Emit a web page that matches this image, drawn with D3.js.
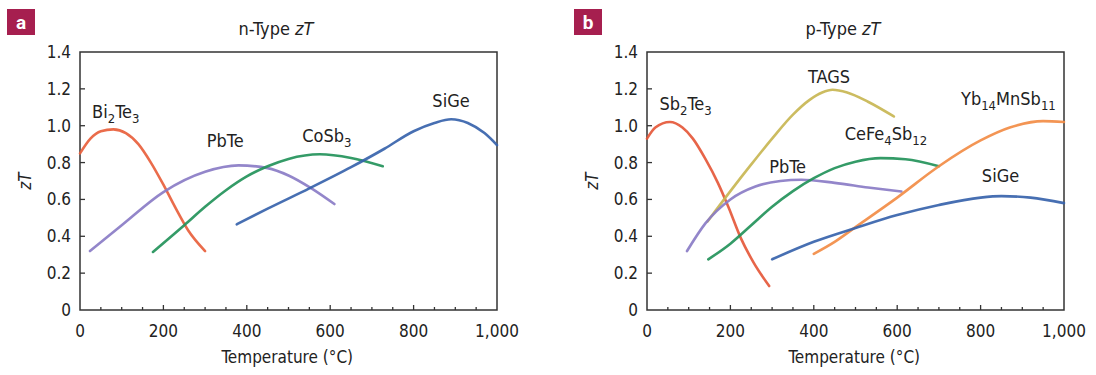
<!DOCTYPE html>
<html>
<head>
<meta charset="utf-8">
<script src="https://cdn.jsdelivr.net/npm/d3@7"></script>
<style>
  body { margin: 0; background: #fff; }
  text { font-family: "Liberation Sans Narrow", "DejaVu Sans Condensed", sans-serif; fill: #222; }
</style>
</head>
<body>
<div id="chart"></div>
<script>
// temperature (°C), zT pairs
const nBi2Te3 = [[0, 0.85], [25, 0.93], [50, 0.97], [80, 0.98], [110, 0.96], [140, 0.9], [170, 0.8], [200, 0.68], [230, 0.55], [260, 0.43], [300, 0.32]];
const nPbTe = [[24, 0.32], [100, 0.46], [200, 0.64], [300, 0.75], [380, 0.785], [450, 0.77], [500, 0.73], [555, 0.66], [610, 0.575]];
const nCoSb3 = [[175, 0.315], [250, 0.46], [300, 0.56], [350, 0.65], [400, 0.725], [450, 0.78], [500, 0.82], [575, 0.845], [650, 0.825], [726, 0.78]];
const nSiGe = [[376, 0.465], [450, 0.55], [550, 0.66], [650, 0.775], [730, 0.875], [800, 0.97], [850, 1.015], [890, 1.035], [930, 1.015], [970, 0.96], [1000, 0.895]];

const pSb2Te3 = [[0, 0.93], [20, 0.99], [55, 1.02], [85, 0.99], [110, 0.93], [140, 0.82], [170, 0.69], [195, 0.56], [225, 0.39], [255, 0.26], [293, 0.13]];
const pTAGS = [[145, 0.48], [200, 0.645], [250, 0.79], [300, 0.93], [350, 1.06], [390, 1.14], [420, 1.18], [445, 1.195], [480, 1.18], [530, 1.13], [592, 1.05]];
const pPbTe = [[96, 0.32], [140, 0.47], [200, 0.6], [260, 0.67], [320, 0.7], [370, 0.707], [450, 0.69], [530, 0.665], [610, 0.643]];
const pCeFe4Sb12 = [[147, 0.275], [200, 0.36], [250, 0.46], [300, 0.56], [350, 0.645], [400, 0.715], [450, 0.77], [500, 0.805], [560, 0.824], [620, 0.818], [700, 0.78]];
const pYb14MnSb11 = [[400, 0.305], [450, 0.37], [500, 0.45], [600, 0.61], [700, 0.78], [800, 0.92], [870, 0.99], [950, 1.025], [1000, 1.02]];
const pSiGe = [[300, 0.275], [400, 0.37], [500, 0.445], [600, 0.515], [700, 0.57], [800, 0.61], [850, 0.618], [920, 0.61], [1000, 0.58]];

const xTicks = [0, 200, 400, 600, 800, 1000];
const yTicks = [0, 0.2, 0.4, 0.6, 0.8, 1.0, 1.2, 1.4];

// label text split into [text, isSubscript], anchored at (T, zT)
const nSeries = [
  { data: nBi2Te3, color: "#e8603c", label: [["Bi"], ["2", 1], ["Te"], ["3", 1]], at: [29, 1.04] },
  { data: nPbTe, color: "#8a7cc6", label: [["PbTe"]], at: [304, 0.885] },
  { data: nCoSb3, color: "#23935a", label: [["CoSb"], ["3", 1]], at: [533, 0.91] },
  { data: nSiGe, color: "#3763ab", label: [["SiGe"]], at: [845, 1.1] }
];
const pSeries = [
  { data: pSb2Te3, color: "#e5583a", label: [["Sb"], ["2", 1], ["Te"], ["3", 1]], at: [30, 1.087] },
  { data: pTAGS, color: "#c8b652", label: [["TAGS"]], at: [386, 1.23] },
  { data: pPbTe, color: "#8a7cc6", label: [["PbTe"]], at: [293, 0.743] },
  { data: pCeFe4Sb12, color: "#23935a", label: [["CeFe"], ["4", 1], ["Sb"], ["12", 1]], at: [474, 0.924] },
  { data: pYb14MnSb11, color: "#f28c45", label: [["Yb"], ["14", 1], ["MnSb"], ["11", 1]], at: [753, 1.114] },
  { data: pSiGe, color: "#3763ab", label: [["SiGe"]], at: [803, 0.692] }
];

const svg = d3.select("#chart").append("svg").attr("width", 1096).attr("height", 375);

function panel(left, letter, title, series) {
  const w = 417, top = 52, bottom = 310;
  const x = d3.scaleLinear().domain([0, 1000]).range([left, left + w]);
  const y = d3.scaleLinear().domain([0, 1.4]).range([bottom, top]);
  const g = svg.append("g");

  // badge
  g.append("rect").attr("x", left - 73).attr("y", 9).attr("width", 28).attr("height", 26).attr("fill", "#a61f4f");
  g.append("text").attr("x", left - 59).attr("y", 29).attr("text-anchor", "middle")
    .style("font-family", "Roboto, sans-serif").style("font-weight", "bold").style("font-size", "19px")
    .style("fill", "#fff").text(letter);

  // title
  const t = g.append("text").attr("x", x(470)).attr("y", 35).attr("text-anchor", "middle").style("font-size", "18px");
  t.append("tspan").text(title + " ");
  t.append("tspan").style("font-style", "italic").text("zT");

  // frame
  g.append("rect").attr("x", left).attr("y", top).attr("width", w).attr("height", bottom - top)
    .attr("fill", "none").attr("stroke", "#333").attr("stroke-width", 1.5);

  // inward ticks
  g.selectAll(".xminor").data(d3.range(50, 1000, 50)).join("line")
    .attr("x1", d => x(d)).attr("x2", d => x(d)).attr("y1", bottom).attr("y2", d => bottom - (d % 200 === 0 ? 5 : 3))
    .attr("stroke", "#333").attr("stroke-width", 1.3);
  g.selectAll(".ytick").data(yTicks.slice(1, -1)).join("line")
    .attr("x1", left).attr("x2", left + 5).attr("y1", d => y(d)).attr("y2", d => y(d))
    .attr("stroke", "#333").attr("stroke-width", 1.3);

  // tick labels
  g.selectAll(".xl").data(xTicks).join("text")
    .attr("x", d => x(d)).attr("y", 337).attr("text-anchor", "middle").style("font-size", "17px")
    .text(d => d3.format(",")(d));
  g.selectAll(".yl").data(yTicks).join("text")
    .attr("x", left - 9).attr("y", d => y(d)).attr("dy", "0.35em").attr("text-anchor", "end").style("font-size", "17px")
    .text(d => d === 0 ? "0" : d3.format(".1f")(d));

  // axis titles
  g.append("text").attr("x", x(497)).attr("y", 363).attr("text-anchor", "middle").style("font-size", "17px")
    .text("Temperature (°C)");
  g.append("text").attr("transform", `translate(${left - 55},${y(0.7)}) rotate(-90)`).attr("dy", "0.35em")
    .attr("text-anchor", "middle").style("font-size", "17px").style("font-style", "italic").text("zT");

  // curves
  const line = d3.line().x(d => x(d[0])).y(d => y(d[1])).curve(d3.curveMonotoneX);
  g.selectAll(".curve").data(series).join("path")
    .attr("d", d => line(d.data)).attr("fill", "none").attr("stroke", d => d.color)
    .attr("stroke-width", 2.6).attr("stroke-linecap", "round").attr("opacity", 0.92);

  // curve labels
  series.forEach(s => {
    const lt = g.append("text").attr("x", x(s.at[0])).attr("y", y(s.at[1])).style("font-size", "18px");
    let sub = false;
    s.label.forEach(([txt, isSub]) => {
      const ts = lt.append("tspan").text(txt);
      if (isSub && !sub) ts.attr("dy", 5).style("font-size", "13px");
      else if (!isSub && sub) ts.attr("dy", -5);
      else if (isSub) ts.style("font-size", "13px");
      sub = !!isSub;
    });
  });
}

panel(80, "a", "n-Type", nSeries);
panel(647, "b", "p-Type", pSeries);
</script>
</body>
</html>
